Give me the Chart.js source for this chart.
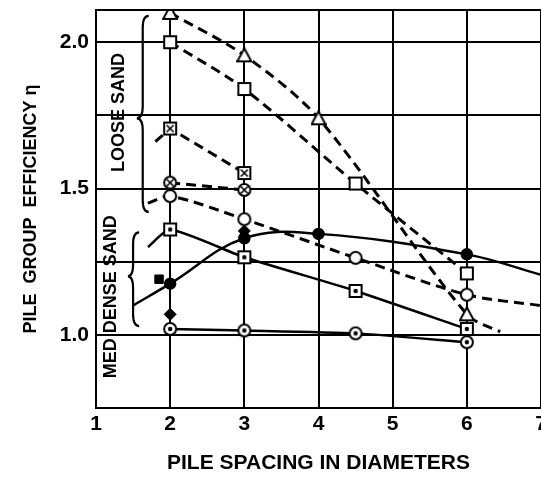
<!DOCTYPE html>
<html>
<head>
<meta charset="utf-8">
<script src="https://cdn.jsdelivr.net/npm/chart.js@4/dist/chart.umd.min.js"></script>
<style>
  html, body { margin: 0; padding: 0; background: #fff; }
  #wrap { width: 541px; height: 479px; }
</style>
</head>
<body>
<div id="wrap"><canvas id="chart" width="541" height="479"></canvas></div>
<script>
// pile spacing (diameters) vs group efficiency
const triangleOpen = [[2, 2.10], [3, 1.955], [4, 1.74], [6, 1.07], [6.45, 1.01]];
const squareOpen = [[2, 2.0], [3, 1.84], [4.5, 1.517], [6, 1.21]];
const squareCrossed = [[1.8, 1.66], [2, 1.705], [3, 1.553]];
const circleCrossed = [[2, 1.52], [3, 1.495]];
const circleOpen = [[1.7, 1.45], [2, 1.474], [3, 1.395], [4.5, 1.263], [6, 1.137], [7, 1.10]];
const squareDot = [[1.7, 1.30], [2, 1.36], [3, 1.265], [4.5, 1.15], [6, 1.02]];
const circleDot = [[2, 1.02], [3, 1.015], [4.5, 1.005], [6, 0.975]];
const circleFilled = [[1.5, 1.10], [2, 1.175], [3, 1.33], [4, 1.345], [6, 1.275], [7, 1.205]];
const squareFilled = [[1.85, 1.19]];
const diamondFilled = [[2, 1.07], [3, 1.355]];

const xTicks = [1, 2, 3, 4, 5, 6, 7];
const yTicks = [0.75, 1.0, 1.25, 1.5, 1.75, 2.0];
const yLabelled = [1.0, 1.5, 2.0];

const FONT = '"Liberation Sans", Arial, sans-serif';

function toPts(arr) {
    return arr.map(p => ({ x: p[0], y: p[1] }));
}

// small canvases used as point styles for the composite markers
function marker(kind) {
    const c = document.createElement('canvas');
    c.width = 16; c.height = 16;
    const g = c.getContext('2d');
    g.lineWidth = 2;
    g.strokeStyle = '#000';
    g.fillStyle = '#fff';
    g.beginPath();
    if (kind.indexOf('circle') === 0) {
        g.arc(8, 8, 6, 0, Math.PI * 2);
    } else if (kind.indexOf('square') === 0) {
        g.rect(2, 2, 12, 12);
    } else {
        g.moveTo(8, 1); g.lineTo(15, 14); g.lineTo(1, 14); g.closePath();
    }
    g.fill();
    g.stroke();
    if (kind.endsWith('Dot')) {
        g.fillStyle = '#000';
        g.beginPath(); g.arc(8, 8, 2.2, 0, Math.PI * 2); g.fill();
    }
    if (kind.endsWith('Cross')) {
        g.lineWidth = 1.6;
        g.beginPath();
        g.moveTo(4.5, 4.5); g.lineTo(11.5, 11.5);
        g.moveTo(11.5, 4.5); g.lineTo(4.5, 11.5);
        g.stroke();
    }
    return c;
}

function radii(arr, hidden, r) {
    return arr.map((p, i) => hidden.includes(i) ? 0 : r);
}

function lineSet(arr, style, dashed, hidden, tension, r) {
    return {
        data: toPts(arr),
        showLine: true,
        borderColor: '#000',
        borderWidth: dashed ? 3 : 2.5,
        borderDash: dashed ? [10, 6] : [],
        pointStyle: style,
        pointRadius: radii(arr, hidden, r || 6),
        pointBackgroundColor: '#000',
        pointBorderColor: '#000',
        tension: tension,
        fill: false
    };
}

const notes = [
    { text: 'LOOSE SAND', x: 1.31, y: 1.76 },
    { text: 'MED DENSE SAND', x: 1.2, y: 1.13 }
];
// brace: x of spine, tip x, top / tip / bottom y
const braces = [
    { x: 1.63, tip: 1.55, top: 2.09, mid: 1.74, bottom: 1.42 },
    { x: 1.5, tip: 1.43, top: 1.35, mid: 1.20, bottom: 1.03 }
];

const decor = {
    id: 'decor',
    afterDatasetsDraw(chart) {
        const { ctx, chartArea, scales } = chart;
        const xs = scales.x, ys = scales.y;
        ctx.save();
        ctx.strokeStyle = '#000';
        ctx.lineWidth = 2;
        ctx.beginPath();
        ctx.moveTo(chartArea.left, chartArea.top);
        ctx.lineTo(chartArea.right, chartArea.top);
        ctx.stroke();

        ctx.lineWidth = 2.2;
        braces.forEach(b => {
            const x = xs.getPixelForValue(b.x), tx = xs.getPixelForValue(b.tip);
            const t = ys.getPixelForValue(b.top), m = ys.getPixelForValue(b.mid), bt = ys.getPixelForValue(b.bottom);
            ctx.beginPath();
            ctx.moveTo(x + 6, t);
            ctx.quadraticCurveTo(x, t, x, t + 12);
            ctx.lineTo(x, m - 12);
            ctx.quadraticCurveTo(x, m, tx, m);
            ctx.quadraticCurveTo(x, m, x, m + 12);
            ctx.lineTo(x, bt - 12);
            ctx.quadraticCurveTo(x, bt, x + 6, bt);
            ctx.stroke();
        });

        ctx.fillStyle = '#000';
        ctx.font = 'bold 18px ' + FONT;
        ctx.textAlign = 'center';
        ctx.textBaseline = 'middle';
        notes.forEach(n => {
            ctx.save();
            ctx.translate(xs.getPixelForValue(n.x), ys.getPixelForValue(n.y));
            ctx.rotate(-Math.PI / 2);
            ctx.fillText(n.text, 0, 0);
            ctx.restore();
        });
        ctx.restore();
    }
};

new Chart(document.getElementById('chart'), {
    type: 'scatter',
    data: {
        datasets: [
            lineSet(triangleOpen, marker('triangle'), true, [4], 0.3),
            lineSet(squareOpen, marker('square'), true, [], 0.3),
            lineSet(squareCrossed, marker('squareCross'), true, [0], 0),
            lineSet(circleCrossed, marker('circleCross'), true, [], 0),
            lineSet(circleOpen, marker('circle'), true, [0, 5], 0.3),
            lineSet(squareDot, marker('squareDot'), false, [0], 0.2),
            lineSet(circleDot, marker('circleDot'), false, [], 0.2),
            lineSet(circleFilled, 'circle', false, [0, 5], 0.4, 5),
            {
                data: toPts(squareFilled), showLine: false, pointStyle: 'rect',
                pointRadius: 6, pointBackgroundColor: '#000', pointBorderColor: '#000'
            },
            {
                data: toPts(diamondFilled), showLine: false, pointStyle: 'rectRot',
                pointRadius: 6, pointBackgroundColor: '#000', pointBorderColor: '#000'
            }
        ]
    },
    options: {
        responsive: false,
        animation: false,
        layout: { autoPadding: false, padding: { top: 10, right: 0, left: 0, bottom: 0 } },
        plugins: { legend: { display: false }, tooltip: { enabled: false } },
        scales: {
            x: {
                type: 'linear',
                min: 1,
                max: 7,
                afterBuildTicks: s => { s.ticks = xTicks.map(v => ({ value: v })); },
                afterFit: s => { s.height = 71; s.paddingLeft = 0; s.paddingRight = 0; },
                grid: { color: '#000', lineWidth: 2, drawTicks: false },
                border: { color: '#000', width: 2 },
                ticks: {
                    color: '#000',
                    padding: 4,
                    maxRotation: 0,
                    font: { family: FONT, size: 21, weight: 'bold' }
                },
                title: {
                    display: true,
                    text: 'PILE SPACING IN DIAMETERS',
                    color: '#000',
                    padding: { top: 0, bottom: 3 },
                    font: { family: FONT, size: 21, weight: 'bold' }
                }
            },
            y: {
                type: 'linear',
                min: 0.75,
                max: 2.11,
                afterBuildTicks: s => { s.ticks = yTicks.map(v => ({ value: v })); },
                afterFit: s => { s.width = 96; s.paddingTop = 0; s.paddingBottom = 0; },
                grid: { color: '#000', lineWidth: 2, drawTicks: false },
                border: { color: '#000', width: 2 },
                ticks: {
                    color: '#000',
                    padding: 7,
                    font: { family: FONT, size: 21, weight: 'bold' },
                    callback: v => yLabelled.includes(v) ? v.toFixed(1) : ''
                },
                title: {
                    display: true,
                    text: 'PILE  GROUP  EFFICIENCY η',
                    color: '#000',
                    padding: { top: 20, bottom: 0 },
                    font: { family: FONT, size: 18, weight: 'bold' }
                }
            }
        }
    },
    plugins: [decor]
});
</script>
</body>
</html>
